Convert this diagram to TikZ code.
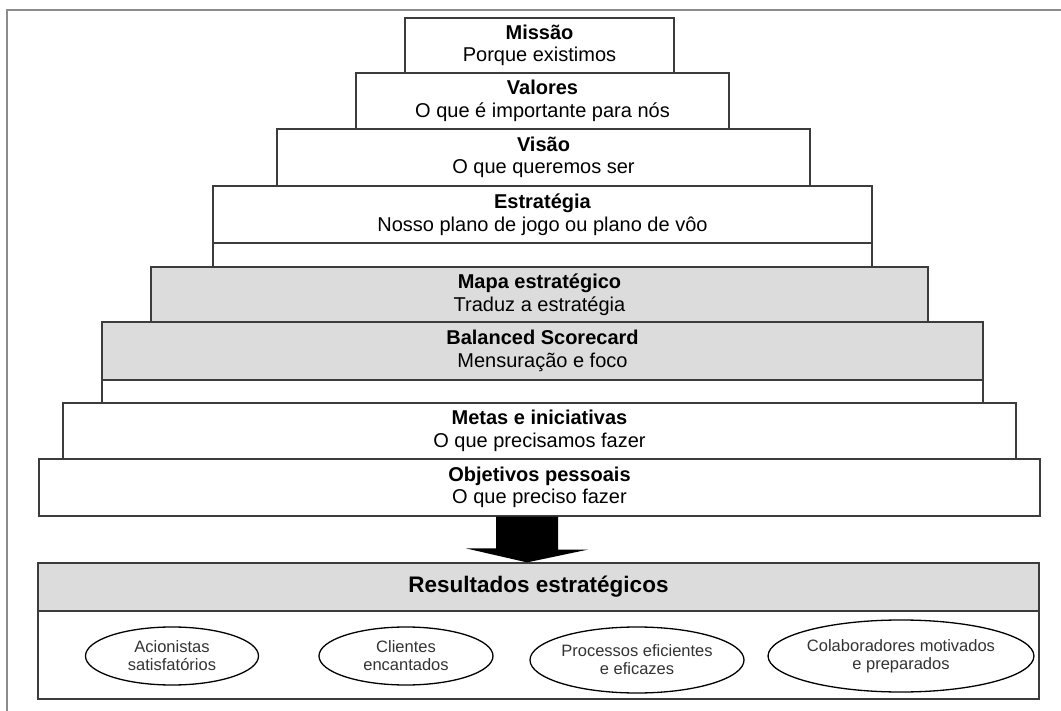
\documentclass[tikz,border=0pt]{standalone}
\usepackage{fontspec}
\setmainfont{Liberation Sans}
\usetikzlibrary{shapes.geometric,calc}
\definecolor{boxgray}{RGB}{220,220,220}
\definecolor{framegray}{RGB}{140,140,140}
\definecolor{linegray}{RGB}{60,60,60}
\tikzset{
  tier/.style={draw=linegray, line width=1.2pt, fill=white, align=center, inner sep=0pt,
    font=\fontsize{20}{22.5}\selectfont, text=black},
  graytier/.style={tier, fill=boxgray},
  oval/.style={ellipse, draw=black, line width=1.3pt, fill=white, align=center, inner sep=0pt,
    font=\fontsize{16.5}{18}\selectfont, text=black!80},
  frameline/.style={draw=framegray, line width=2.5pt}
}
\begin{document}
\begin{tikzpicture}[x=1pt,y=-1pt]
\useasboundingbox (0,0) rectangle (1061,711);
\fill[white] (0,0) rectangle (1061,711);
\coordinate (fbl) at (7,711);
\coordinate (ftl) at (7,10);
\coordinate (ftr) at (1061,10);
\draw[frameline] (fbl) -- (ftl) -- (ftr);

\node[tier, minimum width=269, minimum height=55] (missao) at (539.5,45.5) {\textbf{Missão}\\Porque existimos};
\node[tier, minimum width=373, minimum height=56] (valores) at (542.5,101) {\textbf{Valores}\\O que é importante para nós};
\node[tier, minimum width=533, minimum height=57] (visao) at (543.5,157.5) {\textbf{Visão}\\O que queremos ser};
\node[tier, minimum width=659, minimum height=57] (estrat) at (542.5,214.5) {\textbf{Estratégia}\\Nosso plano de jogo ou plano de vôo};
\node[tier, minimum width=659, minimum height=24] (estratb) at (542.5,255) {};
\node[graytier, minimum width=777, minimum height=55] (mapa) at (539.5,294.5) {\textbf{Mapa estratégico}\\Traduz a estratégia};
\node[graytier, minimum width=881, minimum height=58] (bsc) at (542.5,351) {\textbf{Balanced Scorecard}\\Mensuração e foco};
\node[tier, minimum width=881, minimum height=23] (bscb) at (542.5,391.5) {};
\node[tier, minimum width=953, minimum height=56] (metas) at (539.5,431) {\textbf{Metas e iniciativas}\\O que precisamos fazer};
\node[tier, minimum width=1001, minimum height=57] (objetivos) at (539.5,487.5) {\textbf{Objetivos pessoais}\\O que preciso fazer};

\node[graytier, minimum width=1001, minimum height=48, font=\fontsize{22.5}{24}\selectfont] (result) at (538.5,587) {\textbf{Resultados estratégicos}};
\node[tier, minimum width=1001, minimum height=88] (resultb) at (538.5,655) {};

\node[oval, minimum width=173, minimum height=58] (e1) at (172,656) {Acionistas\\satisfatórios};
\node[oval, minimum width=174, minimum height=58] (e2) at (406,656) {Clientes\\encantados};
\node[oval, minimum width=185, minimum height=66] (e3) at (637,660) {Processos eficientes\\e eficazes};
\node[oval, minimum width=218, minimum height=72] (e4) at (901,656) {Colaboradores motivados\\e preparados};

\coordinate (ax) at (527,0);
\fill[black] ($(ax |- objetivos.south)+(-31,0)$) -- ++(62,0) -- ++(0,33) -- ++(30,0)
  -- (ax |- result.north) -- ++(-61,-14) -- ++(30,0) -- cycle;
\end{tikzpicture}
\end{document}
